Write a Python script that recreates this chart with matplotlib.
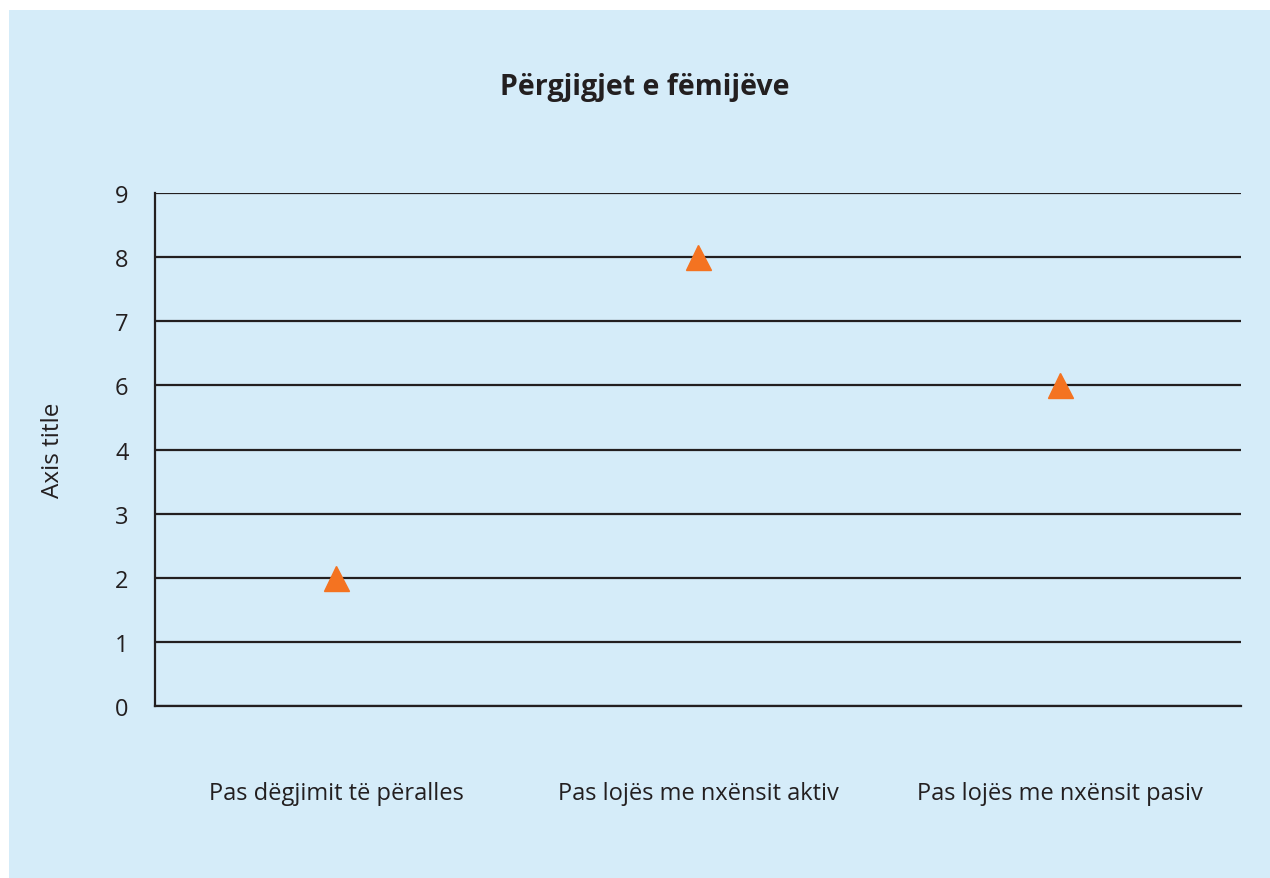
import matplotlib.pyplot as plt
from matplotlib.patches import Rectangle

plt.rcParams['font.family'] = ['Open Sans', 'DejaVu Sans']

categories = ["Pas dëgjimit të përalles", "Pas lojës me nxënsit aktiv", "Pas lojës me nxënsit pasiv"]
values = [2, 8, 6]
# the original axis skips 5
tick_labels = [0, 1, 2, 3, 4, 6, 7, 8, 9]

bg = "#d5ecf9"
ink = "#231f20"
orange = "#f47321"

fig = plt.figure(figsize=(12.7, 8.79), dpi=100, facecolor="white")
fig.patches.append(Rectangle((9 / 1270, 0), 1 - 9 / 1270, 1 - 11 / 879,
                             transform=fig.transFigure, facecolor=bg,
                             edgecolor="none", zorder=-10))

ax = fig.add_axes([155 / 1270, 172 / 879, 1086 / 1270, 513 / 879])
ax.set_facecolor(bg)
ax.patch.set_alpha(0)

ypos = [tick_labels.index(v) for v in values]
ax.plot(range(len(categories)), ypos, linestyle="none", marker="^",
        markersize=18, color=orange, zorder=3, clip_on=False)

ax.set_xlim(-0.5, len(categories) - 0.5)
ax.set_ylim(0, len(tick_labels) - 1)
ax.set_yticks(range(len(tick_labels)))
ax.set_yticklabels([str(t) for t in tick_labels])
ax.set_xticks(range(len(categories)))
ax.set_xticklabels(categories)
ax.tick_params(axis="both", length=0, colors=ink)
ax.tick_params(axis="y", pad=19, labelsize=17)
ax.tick_params(axis="x", pad=54, labelsize=17)

ax.grid(axis="y", color=ink, linewidth=1.6)
ax.set_axisbelow(True)
for s in ["top", "right"]:
    ax.spines[s].set_visible(False)
for s in ["left", "bottom"]:
    ax.spines[s].set_color(ink)
    ax.spines[s].set_linewidth(1.6)

ax.set_ylabel("Axis title", fontsize=17.5, color=ink, labelpad=36)
fig.text(645 / 1270, 1 - 88 / 879, "Përgjigjet e fëmijëve", ha="center", va="center",
         fontsize=20.5, fontweight="bold", color=ink)

fig.savefig("out.png", dpi=100, facecolor=fig.get_facecolor())
